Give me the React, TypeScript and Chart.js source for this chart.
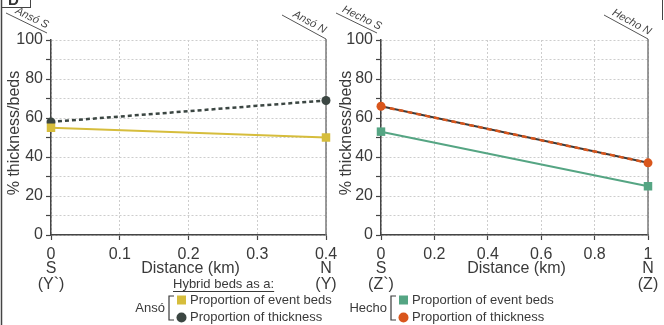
import React, { useEffect, useRef } from 'react';
import { Chart, registerables } from 'chart.js';

Chart.register(...registerables);

// ---------- data ----------
const ansoDistance = [0, 0.4];
const ansoEventBeds = [55, 50];
const ansoThickness = [58, 69];
const hechoDistance = [0, 1];
const hechoEventBeds = [53, 25];
const hechoThickness = [66, 37];
const ansoXStep = 0.1;
const hechoXStep = 0.2;
const yLabelStep = 20;

const FONT = '"Liberation Sans", Arial, Helvetica, sans-serif';
const TXT = '#3a3a3a';
const AXIS = '#454545';
const GRID = '#cdcdcd';

const YELLOW = '#d6bd3c';
const DARK = '#3b4642';
const GREEN = '#55a583';
const ORANGE = '#d9561c';

type Panel = {
  name: string;
  x: number[];
  event: number[];
  thick: number[];
  step: number;
  eventColor: string;
  thickColor: string;
  thickUnder?: string;
  padLeft: number;
  padRight: number;
  yWidth: number;
  sSub: string;
  nSub: string;
  legendTitle?: string;
  legendX: number;
};

function drawText(ctx: CanvasRenderingContext2D, t: string, x: number, y: number, size: number, align: CanvasTextAlign = 'center', color = TXT) {
  ctx.save();
  ctx.font = `${size}px ${FONT}`;
  ctx.fillStyle = color;
  ctx.textAlign = align;
  ctx.textBaseline = 'middle';
  ctx.fillText(t, x, y);
  ctx.restore();
}

function slantLabel(ctx: CanvasRenderingContext2D, t: string, x1: number, y1: number, x2: number, y2: number) {
  ctx.save();
  ctx.strokeStyle = '#555';
  ctx.lineWidth = 1;
  ctx.beginPath();
  ctx.moveTo(x1, y1);
  ctx.lineTo(x2, y2);
  ctx.stroke();
  const ang = Math.atan2(y2 - y1, x2 - x1);
  ctx.translate((x1 + x2) / 2 + 3, (y1 + y2) / 2);
  ctx.rotate(ang);
  ctx.font = `italic 11px ${FONT}`;
  ctx.fillStyle = '#444';
  ctx.textAlign = 'center';
  ctx.textBaseline = 'bottom';
  ctx.fillText(t, 0, 0);
  ctx.restore();
}

function makePlugin(p: Panel) {
  return {
    id: 'annot_' + p.name,
    afterDraw(chart: any) {
      const ctx: CanvasRenderingContext2D = chart.ctx;
      const xs = chart.scales.x;
      const ys = chart.scales.y;
      const x0 = xs.getPixelForValue(xs.min);
      const x1 = xs.getPixelForValue(xs.max);
      const yTop = ys.getPixelForValue(100);

      slantLabel(ctx, p.name + ' N', x1 - 44, 15, x1, yTop - 1);
      slantLabel(ctx, p.name + ' S', x0 - 45, 13, x0 - 4, 33);

      // y axis title
      ctx.save();
      ctx.translate(chart.options.layout.padding.left + 15, 133);
      ctx.rotate(-Math.PI / 2);
      ctx.font = `16px ${FONT}`;
      ctx.fillStyle = TXT;
      ctx.textAlign = 'center';
      ctx.textBaseline = 'middle';
      ctx.fillText('% thickness/beds', 0, 0);
      ctx.restore();

      // x axis title and S / N labels
      drawText(ctx, 'Distance (km)', (x0 + x1) / 2 + 2, 269, 16);
      drawText(ctx, 'S', x0, 269, 16);
      drawText(ctx, p.sSub, x0, 285, 16);
      drawText(ctx, 'N', x1, 269, 16);
      drawText(ctx, p.nSub, x1, 285, 16);

      // legend
      const lx = p.legendX;
      if (p.legendTitle) {
        ctx.save();
        ctx.font = `13px ${FONT}`;
        const w = ctx.measureText(p.legendTitle).width;
        ctx.restore();
        const tx = lx - 4;
        drawText(ctx, p.legendTitle, tx, 284, 13, 'left');
        ctx.save();
        ctx.strokeStyle = TXT;
        ctx.lineWidth = 1;
        ctx.beginPath();
        ctx.moveTo(tx, 291.5);
        ctx.lineTo(tx + w, 291.5);
        ctx.stroke();
        ctx.restore();
      }
      drawText(ctx, p.name, lx - 12, 308, 13, 'right');
      ctx.save();
      ctx.strokeStyle = TXT;
      ctx.lineWidth = 1.2;
      ctx.beginPath();
      ctx.moveTo(lx - 3, 296);
      ctx.lineTo(lx - 8, 296);
      ctx.lineTo(lx - 8, 320);
      ctx.lineTo(lx - 3, 320);
      ctx.stroke();
      ctx.restore();
      ctx.save();
      ctx.fillStyle = p.eventColor;
      ctx.fillRect(lx, 295.5, 9, 9);
      ctx.fillStyle = p.thickUnder || p.thickColor;
      ctx.beginPath();
      ctx.arc(lx + 4.5, 317.5, 5, 0, Math.PI * 2);
      ctx.fill();
      ctx.restore();
      drawText(ctx, 'Proportion of event beds', lx + 13, 300, 13, 'left');
      drawText(ctx, 'Proportion of thickness', lx + 13, 317, 13, 'left');
    },
  };
}

function makeEdgePlugin() {
  return {
    id: 'edge',
    beforeDatasetsDraw(chart: any) {
      const ctx: CanvasRenderingContext2D = chart.ctx;
      const xs = chart.scales.x;
      const ys = chart.scales.y;
      const x1 = xs.getPixelForValue(xs.max);
      ctx.save();
      ctx.strokeStyle = '#7a7a7a';
      ctx.lineWidth = 1.5;
      ctx.beginPath();
      ctx.moveTo(x1, ys.getPixelForValue(0));
      ctx.lineTo(x1, ys.getPixelForValue(100) - 1);
      ctx.stroke();
      ctx.restore();
    },
  };
}

function makeConfig(p: Panel): any {
  const pts = (ys: number[]) => p.x.map((x, i) => ({ x, y: ys[i] }));
  const markColor = p.thickUnder || p.thickColor;
  const datasets: any[] = [
    {
      data: pts(p.event),
      borderColor: p.eventColor,
      backgroundColor: p.eventColor,
      pointBackgroundColor: p.eventColor,
      pointBorderColor: p.eventColor,
      pointBorderWidth: 0,
      pointStyle: 'rect',
      pointRadius: 6,
      borderWidth: 2,
      clip: false,
    },
    {
      data: pts(p.thick),
      borderColor: p.thickUnder ? p.thickUnder : p.thickColor,
      borderDash: p.thickUnder ? [5, 4] : [4, 3],
      backgroundColor: markColor,
      pointBackgroundColor: markColor,
      pointBorderColor: markColor,
      pointBorderWidth: 0,
      pointStyle: 'circle',
      pointRadius: 4.5,
      borderWidth: 2.5,
      clip: false,
    },
  ];
  if (p.thickUnder) {
    datasets.push({
      data: pts(p.thick),
      borderColor: p.thickColor,
      pointRadius: 0,
      borderWidth: 2,
      clip: false,
    });
  }
  return {
    type: 'line',
    data: { datasets },
    options: {
      animation: false,
      responsive: false,
      maintainAspectRatio: false,
      layout: { padding: { left: p.padLeft, right: p.padRight, top: 40, bottom: 0 } },
      plugins: { legend: { display: false }, tooltip: { enabled: false } },
      scales: {
        x: {
          type: 'linear',
          min: p.x[0],
          max: p.x[p.x.length - 1],
          ticks: {
            stepSize: p.step,
            autoSkip: false,
            maxRotation: 0,
            padding: 5,
            color: TXT,
            font: { family: FONT, size: 16 },
            callback: (v: number) => String(Math.round(v * 10) / 10),
          },
          grid: { color: GRID, lineWidth: 1, tickColor: AXIS, tickLength: 5, tickWidth: 1.2 },
          border: { color: AXIS, width: 1.5, dash: [2, 2] },
          afterFit: (s: any) => {
            s.height = 90;
            s.paddingLeft = 0;
            s.paddingRight = 0;
          },
        },
        y: {
          min: 0,
          max: 100,
          ticks: {
            stepSize: 10,
            autoSkip: false,
            padding: 3,
            color: TXT,
            font: { family: FONT, size: 16 },
            callback: (v: number) => (v % yLabelStep === 0 ? String(v) : ''),
          },
          grid: { color: GRID, lineWidth: 1, tickColor: AXIS, tickLength: 5, tickWidth: 1.2 },
          border: { color: AXIS, width: 1.5, dash: [2, 2] },
          afterFit: (s: any) => {
            s.width = p.yWidth;
            s.paddingTop = 0;
            s.paddingBottom = 0;
          },
        },
      },
    },
    plugins: [makeEdgePlugin(), makePlugin(p)],
  };
}

const frameLabel = 'D';

const framePlugin = {
  id: 'frame',
  afterDraw(chart: any) {
    const ctx: CanvasRenderingContext2D = chart.ctx;
    ctx.save();
    ctx.strokeStyle = '#444';
    ctx.lineWidth = 1.5;
    ctx.beginPath();
    ctx.moveTo(1.5, 0);
    ctx.lineTo(1.5, 325);
    ctx.stroke();
    ctx.lineWidth = 1;
    ctx.strokeRect(1.5, -2, 29, 9.5);
    ctx.font = `bold 15px ${FONT}`;
    ctx.fillStyle = '#333';
    ctx.textAlign = 'left';
    ctx.textBaseline = 'alphabetic';
    ctx.fillText(frameLabel, 8, 5);
    ctx.beginPath();
    ctx.moveTo(662.5, 0);
    ctx.lineTo(662.5, 20);
    ctx.stroke();
    ctx.restore();
  },
};

const ansoPanel: Panel = {
  name: 'Ansó',
  x: ansoDistance,
  event: ansoEventBeds,
  thick: ansoThickness,
  step: ansoXStep,
  eventColor: YELLOW,
  thickColor: DARK,
  padLeft: 0,
  padRight: 664 - 326,
  yWidth: 51,
  sSub: '(Y`)',
  nSub: '(Y)',
  legendTitle: 'Hybrid beds as a:',
  legendX: 177,
};

const hechoPanel: Panel = {
  name: 'Hecho',
  x: hechoDistance,
  event: hechoEventBeds,
  thick: hechoThickness,
  step: hechoXStep,
  eventColor: GREEN,
  thickColor: '#3d3a38',
  thickUnder: ORANGE,
  padLeft: 332,
  padRight: 664 - 648,
  yWidth: 49,
  sSub: '(Z`)',
  nSub: '(Z)',
  legendX: 399,
};

function ChartCanvas({ panel, extra }: { panel: Panel; extra?: any }) {
  const ref = useRef<HTMLCanvasElement>(null);
  useEffect(() => {
    if (!ref.current) return;
    const cfg = makeConfig(panel);
    if (extra) cfg.plugins.push(extra);
    const chart = new Chart(ref.current, cfg);
    return () => chart.destroy();
  }, []);
  return (
    <canvas
      ref={ref}
      width={664}
      height={325}
      style={{ position: 'absolute', left: 0, top: 0, width: 664, height: 325 }}
    />
  );
}

export default function App() {
  return (
    <div style={{ position: 'fixed', left: 0, top: 0, width: 664, height: 325, background: '#fff' }}>
      <ChartCanvas panel={ansoPanel} extra={framePlugin} />
      <ChartCanvas panel={hechoPanel} />
    </div>
  );
}
